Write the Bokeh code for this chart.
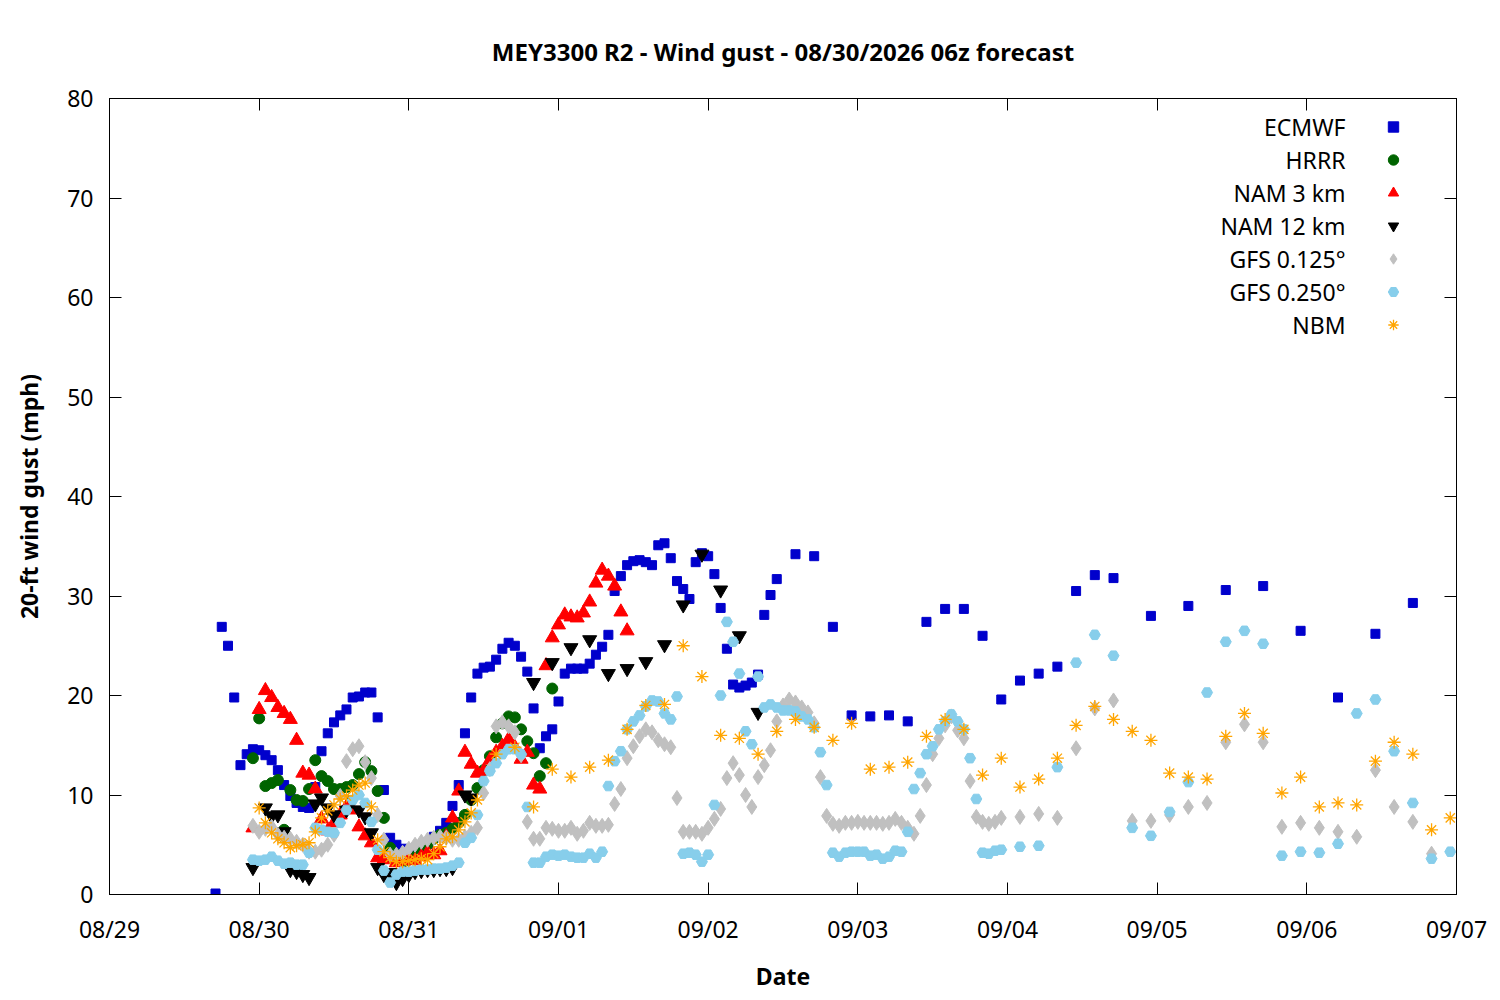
from bokeh.plotting import figure
from bokeh.models import Range1d, FixedTicker, LinearAxis, Legend, LegendItem, Label, ColumnDataSource
from bokeh.core.properties import value
from bokeh.embed import file_html
from bokeh.resources import INLINE

# ---------------- data (x = hours since 08/29 00z, y = 20-ft wind gust, mph) ----------------
day_ticks = [0, 24, 48, 72, 96, 120, 144, 168, 192, 216]
day_labels = ["08/29", "08/30", "08/31", "09/01", "09/02", "09/03", "09/04", "09/05", "09/06", "09/07"]
gust_ticks = [0, 10, 20, 30, 40, 50, 60, 70, 80]

ecmwf_hours = list(range(17, 108)) + list(range(110, 162, 3)) + list(range(167, 210, 6))
ecmwf_gust = [
    0.1, 26.9, 25.0, 19.8, 13.0, 14.1, 14.6, 14.5, 14.0, 13.5,
    12.5, 11.0, 9.9, 9.2, 8.8, 8.7, 10.8, 14.4, 16.2, 17.3,
    18.0, 18.6, 19.8, 19.9, 20.3, 20.3, 17.8, 10.5, 5.7, 5.0,
    4.6, 4.4, 4.6, 4.8, 5.2, 5.8, 6.4, 7.2, 8.9, 11.0,
    16.2, 19.8, 22.2, 22.8, 22.9, 23.6, 24.7, 25.3, 25.0, 23.9,
    22.4, 18.7, 14.7, 15.9, 16.6, 19.4, 22.2, 22.7, 22.7, 22.7,
    23.2, 24.1, 24.9, 26.1, 30.5, 32.0, 33.1, 33.5, 33.6, 33.4,
    33.1, 35.1, 35.3, 33.8, 31.5, 30.7, 29.7, 33.4, 34.3, 34.0,
    32.2, 28.8, 24.7, 21.1, 20.8, 21.0, 21.3, 22.1, 28.1, 30.1,
    31.7,
    34.2, 34.0, 26.9, 18.0, 17.9, 18.0, 17.4, 27.4, 28.7, 28.7,
    26.0, 19.6, 21.5, 22.2, 22.9, 30.5, 32.1, 31.8,
    28.0, 29.0, 30.6, 31.0, 26.5, 19.8, 26.2, 29.3,
]

hrrr_hours = list(range(23, 72))
hrrr_gust = [
    13.7, 17.7, 10.9, 11.2, 11.5, 6.5, 10.5, 9.5, 9.4, 10.6,
    13.5, 11.9, 11.4, 10.6, 10.6, 10.8, 11.0, 12.1, 13.3, 12.4,
    10.4, 7.7, 4.7, 4.0, 3.2, 3.5, 3.8, 4.3, 5.0, 5.6,
    6.0, 6.2, 6.6, 7.2, 8.0, 9.5, 10.7, 12.5, 13.9, 15.8,
    17.2, 17.9, 17.8, 16.6, 15.4, 14.2, 11.9, 13.2, 20.7,
]

nam3_hours = list(range(23, 84))
nam3_gust = [
    6.7, 18.6, 20.5, 19.8, 18.8, 18.2, 17.6, 15.5, 12.2, 12.0,
    10.6, 7.6, 6.4, 7.2, 8.0, 8.8, 8.5, 6.8, 5.9, 5.2,
    3.7, 3.5, 3.6, 3.2, 3.4, 3.6, 3.4, 3.8, 4.2, 4.0,
    4.4, 5.8, 7.7, 10.4, 14.3, 13.1, 12.2, 12.4, 13.5, 14.3,
    14.9, 15.6, 14.8, 13.6, 14.3, 11.0, 10.6, 23.0, 25.8, 27.1,
    28.1, 27.9, 27.8, 28.3, 29.4, 31.3, 32.6, 32.0, 31.0, 28.4, 26.5,
]

nam12_hours = [23] + list(range(25, 37)) + list(range(38, 56)) + [57, 58] + list(range(68, 105, 3))
nam12_gust = [
    2.7,
    8.7, 7.9, 8.0, 6.3, 2.5, 2.3, 2.0, 1.7, 9.1, 9.7, 8.7, 8.0,
    8.5, 9.5, 8.5, 7.8, 6.2, 2.7, 2.0, 2.2, 1.2, 1.6, 2.0, 2.3, 2.4, 2.5, 2.5, 2.6, 2.6, 2.7,
    10.0, 9.7,
    21.3, 23.3, 24.8, 25.6, 22.2, 22.7, 23.4, 25.1, 29.1, 34.2, 30.6, 26.0, 18.3,
]

gfs125_hours = list(range(23, 143)) + list(range(143, 213, 3))
gfs125_gust = [
    6.9, 6.3, 6.6, 6.8, 6.0, 5.7, 5.6, 5.3, 5.0, 4.3,
    4.3, 4.5, 5.0, 6.0, 9.9, 13.4, 14.6, 14.9, 13.3, 11.7,
    8.0, 5.5, 4.0, 4.0, 4.2, 4.6, 5.0, 5.3, 5.5, 5.7,
    5.8, 5.7, 5.5, 5.5, 5.8, 6.2, 6.7, 10.2, 12.6, 16.9,
    17.3, 16.9, 16.3, 14.0, 7.3, 5.6, 5.6, 6.7, 6.6, 6.4,
    6.4, 6.7, 6.1, 6.4, 7.2, 6.9, 6.9, 7.0, 9.1, 10.6,
    13.7, 14.9, 15.9, 16.6, 16.3, 15.5, 15.1, 14.8, 9.7, 6.3,
    6.3, 6.3, 6.1, 6.7, 7.6, 8.6, 11.7, 13.2, 12.0, 10.0,
    8.8, 11.8, 13.0, 14.5, 17.4, 19.0, 19.6, 19.3, 18.8, 18.3,
    17.2, 11.8, 7.9, 7.1, 6.9, 7.2, 7.2, 7.3, 7.2, 7.2,
    7.2, 7.1, 7.2, 7.6, 7.2, 6.7, 6.1, 7.9, 11.0, 14.1,
    15.7, 17.0, 17.9, 16.5, 15.7, 11.4, 7.8, 7.3, 7.1, 7.3,
    7.7, 7.8, 8.1, 7.7, 14.7, 18.7, 19.5, 7.4, 7.4, 8.0,
    8.8, 9.2, 15.3, 17.1, 15.3, 6.8, 7.2, 6.7, 6.3, 5.8,
    12.5, 8.8, 7.3, 4.1,
]

gfs250_hours = list(range(23, 143)) + list(range(143, 216, 3))
gfs250_gust = [
    3.5, 3.4, 3.5, 3.8, 3.4, 3.1, 3.2, 3.0, 3.0, 4.2,
    6.7, 6.5, 6.3, 6.2, 7.2, 8.5, 9.5, 10.0, 9.2, 7.3,
    4.5, 2.4, 1.2, 2.0, 2.3, 2.3, 2.4, 2.5, 2.5, 2.6,
    2.6, 2.7, 2.9, 3.2, 5.2, 5.7, 8.0, 11.4, 12.4, 13.2,
    14.1, 14.6, 14.6, 14.1, 8.8, 3.2, 3.2, 3.8, 4.0, 3.9,
    4.0, 3.8, 3.7, 3.7, 4.1, 3.7, 4.3, 10.9, 13.4, 14.4,
    16.6, 17.4, 18.0, 18.9, 19.5, 19.4, 18.2, 17.6, 19.9, 4.1,
    4.2, 4.0, 3.3, 4.0, 9.0, 20.0, 27.4, 25.4, 22.2, 16.4,
    15.1, 21.9, 18.8, 19.1, 18.8, 18.5, 18.5, 18.4, 17.9, 17.6,
    16.8, 14.3, 11.0, 4.2, 3.8, 4.2, 4.3, 4.3, 4.3, 3.9,
    4.0, 3.6, 3.8, 4.4, 4.3, 6.3, 10.6, 12.2, 14.1, 14.9,
    16.6, 17.4, 18.1, 17.4, 16.6, 13.7, 9.6, 4.2, 4.1, 4.4,
    4.5, 4.8, 4.9, 12.8, 23.3, 26.1, 24.0, 6.7, 5.9, 8.3,
    11.3, 20.3, 25.4, 26.5, 25.2, 3.9, 4.3, 4.2, 5.1, 18.2,
    19.6, 14.4, 9.2, 3.6, 4.3,
]

nbm_hours = list(range(24, 60)) + list(range(62, 216, 3))
nbm_gust = [
    8.7, 7.2, 6.2, 5.6, 5.2, 4.7, 4.9, 5.0, 5.2, 6.3,
    7.7, 8.4, 9.0, 9.6, 9.9, 10.5, 11.0, 11.2, 8.8, 5.5,
    4.3, 3.7, 3.3, 3.3, 3.4, 3.5, 3.6, 3.5, 4.1, 4.8,
    5.6, 5.8, 6.5, 7.3, 8.2, 9.5,
    14.1, 14.8, 8.8, 12.6, 11.8, 12.8, 13.5, 16.6, 19.0, 19.1,
    25.0, 21.9, 16.0, 15.7, 14.1, 16.4, 17.6, 16.8, 15.5, 17.2,
    12.6, 12.8, 13.3, 15.9, 17.6, 16.6, 12.0, 13.7, 10.8, 11.6,
    13.7, 17.0, 18.9, 17.6, 16.4, 15.5, 12.2, 11.8, 11.6, 15.9,
    18.2, 16.2, 10.2, 11.8, 8.8, 9.2, 9.0, 13.4, 15.3, 14.1,
    6.5, 7.7,
]

series_names = ["ECMWF", "HRRR", "NAM 3 km", "NAM 12 km", "GFS 0.125°", "GFS 0.250°", "NBM"]
series_hours = [ecmwf_hours, hrrr_hours, nam3_hours, nam12_hours, gfs125_hours, gfs250_hours, nbm_hours]
series_gust = [ecmwf_gust, hrrr_gust, nam3_gust, nam12_gust, gfs125_gust, gfs250_gust, nbm_gust]

# ---------------- styles ----------------
series_colors = ["#0000cc", "#006400", "#ff0000", "#000000", "#c0c0c0", "#87ceeb", "#ffa500"]
series_markers = ["square", "circle", "triangle", "inverted_triangle", "diamond", "hex", "asterisk"]
series_sizes = [9, 11, 14, 14, 15, 11, 13]

FONT = "Noto Sans"
FS = "23px"

p = figure(
    frame_width=1347, frame_height=796,
    min_border_left=109, min_border_right=35, min_border_top=98, min_border_bottom=97,
    x_range=Range1d(0, 216), y_range=Range1d(0, 80),
    output_backend="svg", toolbar_location=None,
    x_axis_label="Date", y_axis_label="20-ft wind gust (mph)",
)
p.background_fill_color = "white"
p.border_fill_color = "white"
p.outline_line_color = "black"
p.outline_line_width = 1
p.xgrid.visible = False
p.ygrid.visible = False

p.title.text = "MEY3300 R2 - Wind gust - 08/30/2026 06z forecast"
p.title.align = "center"
p.title.text_font = FONT
p.title.text_font_size = "24px"
p.title.text_font_style = "bold"
p.title.text_color = "black"
p.title.standoff = 62

xticker = FixedTicker(ticks=day_ticks)
yticker = FixedTicker(ticks=gust_ticks)

def style_axis(ax):
    ax.axis_line_color = "black"
    ax.major_tick_line_color = "black"
    ax.major_tick_in = 12
    ax.major_tick_out = 0
    ax.minor_tick_line_color = None
    ax.major_label_text_font = FONT
    ax.major_label_text_font_size = FS
    ax.major_label_text_color = "black"
    ax.axis_label_text_font = FONT
    ax.axis_label_text_font_size = FS
    ax.axis_label_text_font_style = "bold"
    ax.axis_label_text_color = "black"

xa = p.xaxis[0]
xa.ticker = xticker
xa.major_label_overrides = {t: l for t, l in zip(day_ticks, day_labels)}
style_axis(xa)
xa.major_label_standoff = 18
xa.axis_label_standoff = 12

ya = p.yaxis[0]
ya.ticker = yticker
style_axis(ya)
ya.major_label_standoff = 16
ya.axis_label_standoff = 19

top = LinearAxis(ticker=xticker)
style_axis(top)
top.major_label_overrides = {t: "" for t in day_ticks}
top.major_label_text_font_size = "0px"
top.major_label_standoff = 0
p.add_layout(top, "above")

right = LinearAxis(ticker=yticker)
style_axis(right)
right.major_label_overrides = {t: "" for t in gust_ticks}
right.major_label_text_font_size = "0px"
right.major_label_standoff = 0
p.add_layout(right, "right")

renderers = []
for name, hrs, gst, col, mk, sz in zip(series_names, series_hours, series_gust,
                                       series_colors, series_markers, series_sizes):
    n = min(len(hrs), len(gst))
    src = ColumnDataSource(dict(hour=hrs[:n], gust=gst[:n]))
    if mk == "asterisk":
        r = p.scatter("hour", "gust", source=src, marker=mk, size=sz,
                      line_color=col, line_width=1.3)
    else:
        r = p.scatter("hour", "gust", source=src, marker=mk, size=sz,
                      fill_color=col, line_color=col, line_width=1)
    renderers.append(r)

# ---------------- key: names right-aligned, markers to their right ----------------
row_px = 33
first_row_page_y = 127.1
frame_top_page, frame_bottom_page = 99, 895
for i, name in enumerate(series_names):
    ypage = first_row_page_y + row_px * i
    yval = (frame_bottom_page - ypage) / (frame_bottom_page - frame_top_page) * 80
    xval = (1346 - 110) / 1347 * 216
    p.add_layout(Label(x=xval, y=yval, text=name, text_align="right", text_baseline="middle",
                       text_font=FONT, text_font_size=FS, text_color="black"))

# marker column of the key (Legend location = bottom-left corner, in px from frame bottom-left)
glyph_w = 26
key_height = row_px * len(series_names)
key_top_from_frame_top = (first_row_page_y - frame_top_page) - row_px / 2
legend = Legend(
    items=[LegendItem(label=value(" "), renderers=[r]) for r in renderers],
    location=(int(round(1394 - 110 - glyph_w / 2)), int(round(796 - key_top_from_frame_top - key_height))),
    padding=0, spacing=0, margin=0,
    glyph_width=glyph_w, glyph_height=row_px, label_height=row_px, label_width=1, label_standoff=0,
    label_text_font_size="4px",
    border_line_color=None, background_fill_alpha=0,
)
p.add_layout(legend, "center")

open("out.html", "w").write(file_html(p, INLINE))
